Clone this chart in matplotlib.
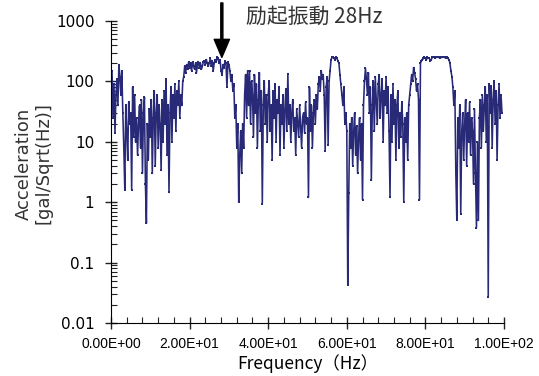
import matplotlib
matplotlib.use("Agg")
import matplotlib.pyplot as plt
import matplotlib.ticker as ticker
from matplotlib import font_manager
import numpy as np

# spectrum, one value per 0.25 Hz bin starting at 0 Hz
step_hz = 0.25
accel = [
    35, 150, 25, 90, 14, 60, 110, 40, 190, 120, 60, 150, 30, 8, 1.6, 40, 15, 5, 45, 20,
    30, 1.6, 80, 12, 60, 10, 25, 6, 20, 40, 8, 50, 3, 30, 55, 2, 0.45, 20, 5, 35,
    12, 50, 3, 25, 70, 4, 30, 60, 8, 40, 20, 3.4, 50, 10, 70, 20, 110, 6, 40, 1.45,
    30, 80, 10, 60, 25, 90, 15, 70, 40, 100, 25, 60, 40, 100, 120, 180, 140, 190, 160, 210,
    170, 200, 150, 210, 180, 160, 200, 140, 190, 210, 170, 200, 160, 180, 210, 220, 190, 230, 200, 180,
    200, 240, 180, 220, 150, 200, 230, 210, 250, 240, 200, 230, 150, 130, 190, 170, 220, 200, 80, 210,
    190, 150, 100, 130, 70, 90, 25, 40, 8, 20, 1.0, 6, 15, 3, 20, 8, 60, 130, 25, 150,
    40, 150, 20, 100, 60, 12, 130, 30, 90, 8, 50, 140, 15, 70, 0.95, 40, 100, 20, 60, 10,
    60, 100, 15, 40, 5, 70, 25, 90, 10, 50, 30, 80, 6, 40, 20, 60, 8, 35, 75, 15,
    135, 20, 40, 10, 30, 50, 15, 25, 6, 35, 20, 12, 40, 18, 8, 25, 30, 14, 45, 20,
    25, 1.2, 80, 15, 40, 8, 30, 50, 20, 60, 35, 90, 120, 70, 150, 110, 130, 60, 7, 80,
    120, 9, 100, 150, 230, 250, 250, 240, 230, 250, 240, 220, 200, 130, 90, 60, 40, 80, 20, 30,
    15, 0.042, 1.4, 20, 8, 25, 4, 15, 30, 6, 18, 3, 12, 25, 5, 20, 1.1, 40, 100, 165,
    110, 60, 140, 30, 80, 2.3, 40, 100, 15, 120, 50, 20, 90, 130, 25, 60, 110, 10, 70, 40,
    120, 30, 80, 15, 1.2, 60, 10, 90, 20, 50, 5, 40, 70, 8, 30, 12, 45, 20, 1.0, 25,
    10, 30, 5, 40, 60, 90, 130, 100, 170, 140, 110, 70, 90, 50, 1.1, 200, 220, 230, 240, 250,
    240, 230, 250, 245, 240, 220, 230, 250, 255, 250, 245, 250, 255, 250, 250, 245, 250, 250, 255, 250,
    250, 245, 250, 240, 230, 200, 150, 120, 80, 40, 70, 3, 0.5, 25, 8, 40, 0.65, 15, 30, 5,
    20, 50, 4, 30, 10, 45, 6, 25, 15, 2, 35, 3, 0.38, 10, 0.5, 25, 50, 8, 60, 15,
    40, 80, 10, 60, 0.027, 90, 30, 85, 8, 50, 100, 20, 70, 5, 40, 90, 25, 60, 30,
]
freq = np.arange(len(accel)) * step_hz

peak_hz = 28.2
peak_val = 250
note = "励起振動 28Hz"

installed = {f.name for f in font_manager.fontManager.ttflist}
narrow = "Liberation Sans Narrow" if "Liberation Sans Narrow" in installed else "Liberation Sans"
jp = ["Noto Sans CJK JP", "DejaVu Sans"]

fig = plt.figure(figsize=(5.39, 3.76), dpi=100)
ax = fig.add_axes([0.206, 0.141, 0.729, 0.803])

ax.plot(freq, accel, color="#282a78", lw=1.15, marker="s", ms=2.0, mew=0)

ax.set_yscale("log")
ax.set_ylim(0.01, 1000)
ax.set_xlim(0, 100)

ax.spines["top"].set_visible(False)
ax.spines["right"].set_visible(False)

ax.xaxis.set_major_locator(ticker.MultipleLocator(20))
ax.xaxis.set_minor_locator(ticker.MultipleLocator(4))
ax.xaxis.set_major_formatter(ticker.FuncFormatter(lambda v, p: f"{v:.2E}"))
ax.yaxis.set_major_locator(ticker.LogLocator(base=10, numticks=10))
ax.yaxis.set_minor_locator(ticker.LogLocator(base=10, subs=np.arange(2, 10), numticks=10))
ax.yaxis.set_minor_formatter(ticker.NullFormatter())
ax.yaxis.set_major_formatter(ticker.FuncFormatter(lambda v, p: f"{v:g}"))

ax.tick_params(which="major", direction="inout", length=8, width=1, color="#222222")
ax.tick_params(which="minor", direction="in", length=4, width=0.8, color="#222222")
ax.tick_params(axis="x", which="major", pad=6)
ax.tick_params(axis="y", which="major", pad=8)

for lab in ax.get_xticklabels():
    lab.set_family(narrow)
    lab.set_fontsize(10)
for lab in ax.get_yticklabels():
    lab.set_family("DejaVu Sans")
    lab.set_fontsize(11)

ax.set_xlabel("Frequency（Hz）", family=jp, fontsize=12.5, labelpad=2)
fig.text(0.062, 0.565, "Acceleration\n[gal/Sqrt(Hz)]", rotation=90, ha="center",
         va="center", fontsize=13, linespacing=1.15, color="#333333")

ax.annotate("", xy=(peak_hz, peak_val), xytext=(peak_hz, 1.06),
            xycoords="data", textcoords=ax.get_xaxis_transform(),
            arrowprops=dict(facecolor="black", edgecolor="black", width=1.5,
                            headwidth=11, headlength=13),
            annotation_clip=False)
ax.text(34.4, 1.013, note, transform=ax.get_xaxis_transform(), ha="left",
        va="center", family=jp, fontsize=15, color="#333333")

fig.savefig("out.png", dpi=100)
